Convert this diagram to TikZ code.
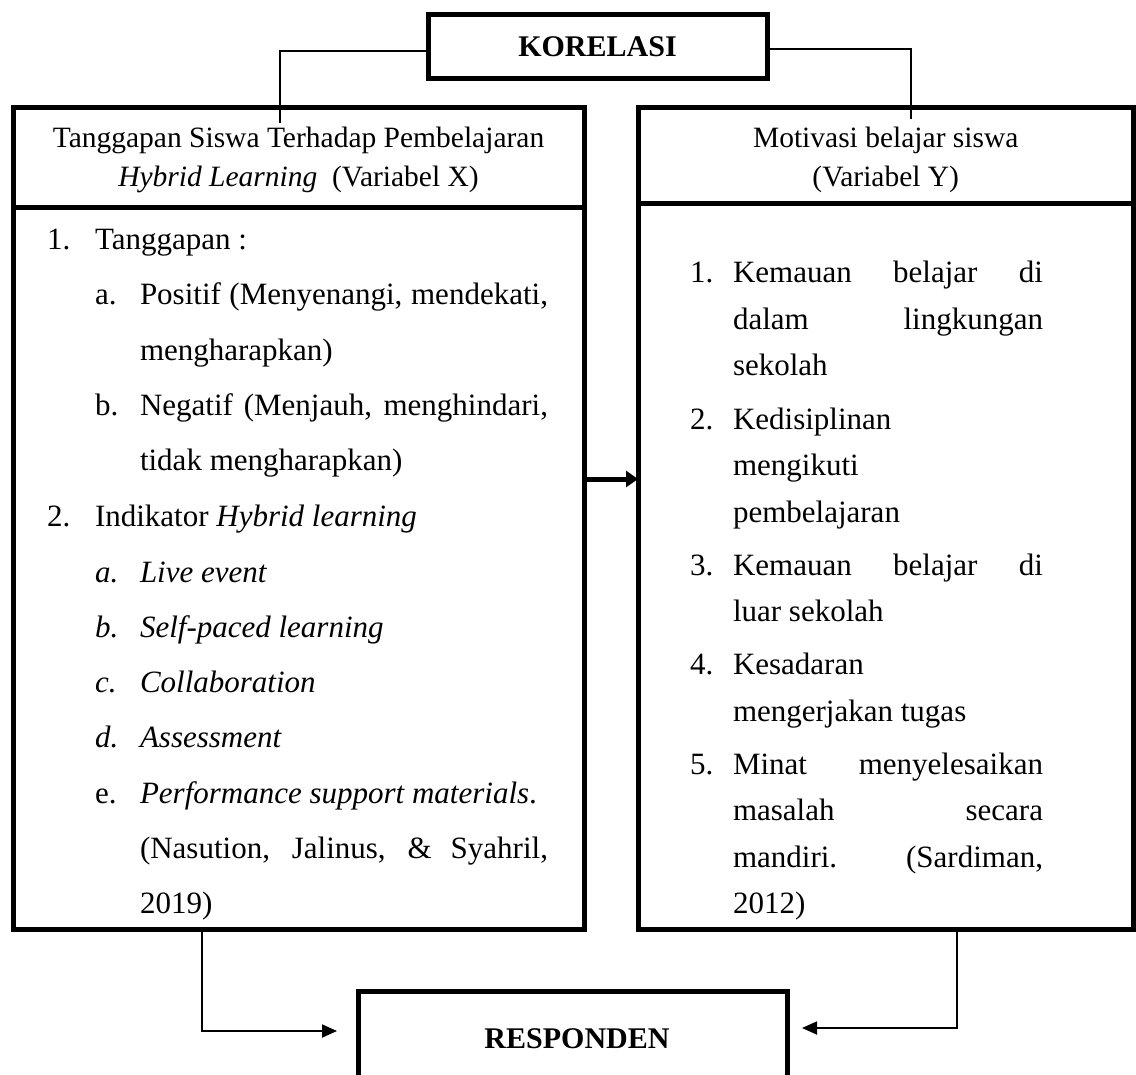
\documentclass[tikz,border=0pt]{standalone}
\usepackage{fontspec}
\setmainfont{Liberation Serif}
\usetikzlibrary{arrows.meta,calc}
\newcommand{\mybody}{\fontsize{31}{37}\selectfont}
\newcommand{\myhead}{\fontsize{29.5}{35}\selectfont}
\newcommand{\mybold}{\fontsize{30}{36}\selectfont\bfseries}
\begin{document}
\begin{tikzpicture}[x=1pt,y=-1pt,
  box/.style={draw=black, fill=white, line width=5pt, inner sep=0pt, outer sep=0pt, rectangle},
  conn/.style={draw=black, line width=1.8pt},
  tipA/.style={-{Triangle[length=15pt,width=13pt]}},
  tipB/.style={-{Triangle[length=12pt,width=16pt]}},
  txt/.style={inner sep=0pt, outer sep=0pt, anchor=base west, font=\mybody},
  htxt/.style={inner sep=0pt, outer sep=0pt, anchor=base, font=\myhead},
]
\useasboundingbox (0,0) rectangle (1136,1075);
\clip (0,0) rectangle (1136,1075);

% boxes
\node[box, minimum width=339pt, minimum height=64pt] (kor) at (597.5,47) {\mybold KORELASI};
\node[box, minimum width=571pt, minimum height=721pt] (lbody) at (298.5,568.5) {};
\node[box, minimum width=571pt, minimum height=100pt] (lhead) at (298.5,158) {};
\node[box, minimum width=495.5pt, minimum height=725pt] (rbody) at (885.75,566.5) {};
\node[box, minimum width=495.5pt, minimum height=96pt] (rhead) at (885.75,156) {};
\node[box, minimum width=429pt, minimum height=119pt] (resp) at (572.5,1050.5) {};
\node[inner sep=0pt, anchor=base, font=\mybold] (resptxt) at (577,1048) {RESPONDEN};

% header texts
\node[htxt] (lh1) at (298.5,148) {Tanggapan Siswa Terhadap Pembelajaran};
\node[htxt] (lh2) at (298.5,187) {\textit{Hybrid Learning}\ \ (Variabel X)};
\node[htxt] (rh1) at (885.75,148) {Motivasi belajar siswa};
\node[htxt] (rh2) at (885.75,187) {(Variabel Y)};

% left body
\node[txt] (l1n) at (47,250) {1.};
\node[txt] (l1t) at (95,250) {Tanggapan :};
\node[txt] (l2n) at (95,305) {a.};
\node[txt] (l2t) at (140,305) {\makebox[408pt][s]{Positif (Menyenangi, mendekati,}};
\node[txt] (l3t) at (140,361) {mengharapkan)};
\node[txt] (l4n) at (95,416) {b.};
\node[txt] (l4t) at (140,416) {\makebox[408pt][s]{Negatif (Menjauh, menghindari,}};
\node[txt] (l5t) at (140,471) {tidak mengharapkan)};
\node[txt] (l6n) at (47,526) {2.};
\node[txt] (l6t) at (95,526) {Indikator \textit{Hybrid learning}};
\node[txt] (l7n) at (95,582) {\textit{a.}};
\node[txt] (l7t) at (140,582) {\textit{Live event}};
\node[txt] (l8n) at (95,637) {\textit{b.}};
\node[txt] (l8t) at (140,637) {\textit{Self-paced learning}};
\node[txt] (l9n) at (95,692) {\textit{c.}};
\node[txt] (l9t) at (140,692) {\textit{Collaboration}};
\node[txt] (l10n) at (95,747) {\textit{d.}};
\node[txt] (l10t) at (140,747) {\textit{Assessment}};
\node[txt] (l11n) at (95,803) {e.};
\node[txt] (l11t) at (140,803) {\textit{Performance support materials}.};
\node[txt] (l12t) at (140,858) {\makebox[408pt][s]{(Nasution, Jalinus, \& Syahril,}};
\node[txt] (l13t) at (140,913) {2019)};

% right body
\node[txt] (r1n) at (690,283) {1.};
\node[txt] (r1t) at (733,283) {\makebox[310pt][s]{Kemauan belajar di}};
\node[txt] (r2t) at (733,329.5) {\makebox[310pt][s]{dalam lingkungan}};
\node[txt] (r3t) at (733,376) {sekolah};
\node[txt] (r4n) at (690,429) {2.};
\node[txt] (r4t) at (733,429) {Kedisiplinan};
\node[txt] (r5t) at (733,475.5) {mengikuti};
\node[txt] (r6t) at (733,522) {pembelajaran};
\node[txt] (r7n) at (690,575) {3.};
\node[txt] (r7t) at (733,575) {\makebox[310pt][s]{Kemauan belajar di}};
\node[txt] (r8t) at (733,621.5) {luar sekolah};
\node[txt] (r9n) at (690,674.5) {4.};
\node[txt] (r9t) at (733,674.5) {Kesadaran};
\node[txt] (r10t) at (733,721) {mengerjakan tugas};
\node[txt] (r11n) at (690,774) {5.};
\node[txt] (r11t) at (733,774) {\makebox[310pt][s]{Minat menyelesaikan}};
\node[txt] (r12t) at (733,820.5) {\makebox[310pt][s]{masalah secara}};
\node[txt] (r13t) at (733,867) {\makebox[310pt][s]{mandiri. (Sardiman,}};
\node[txt] (r14t) at (733,913.5) {2012)};

% connectors
\coordinate (lend) at (280,123);
\coordinate (rend) at (911,119);
\draw[conn] ([yshift=-4pt]kor.west) -| (lend);
\draw[conn] ([yshift=-2pt]kor.east) -| (rend);

\coordinate (mid) at (0,479);
\draw[line width=5pt, tipB] (lbody.east |- mid) -- (rbody.west |- mid);

\coordinate (bl) at (202,1031);
\coordinate (br) at (957,1028);
\draw[conn, tipA] (lbody.south -| bl) |- ([xshift=-21pt]resp.west |- bl);
\draw[conn, tipA] (rbody.south -| br) |- ([xshift=15pt]resp.east |- br);
\end{tikzpicture}
\end{document}
